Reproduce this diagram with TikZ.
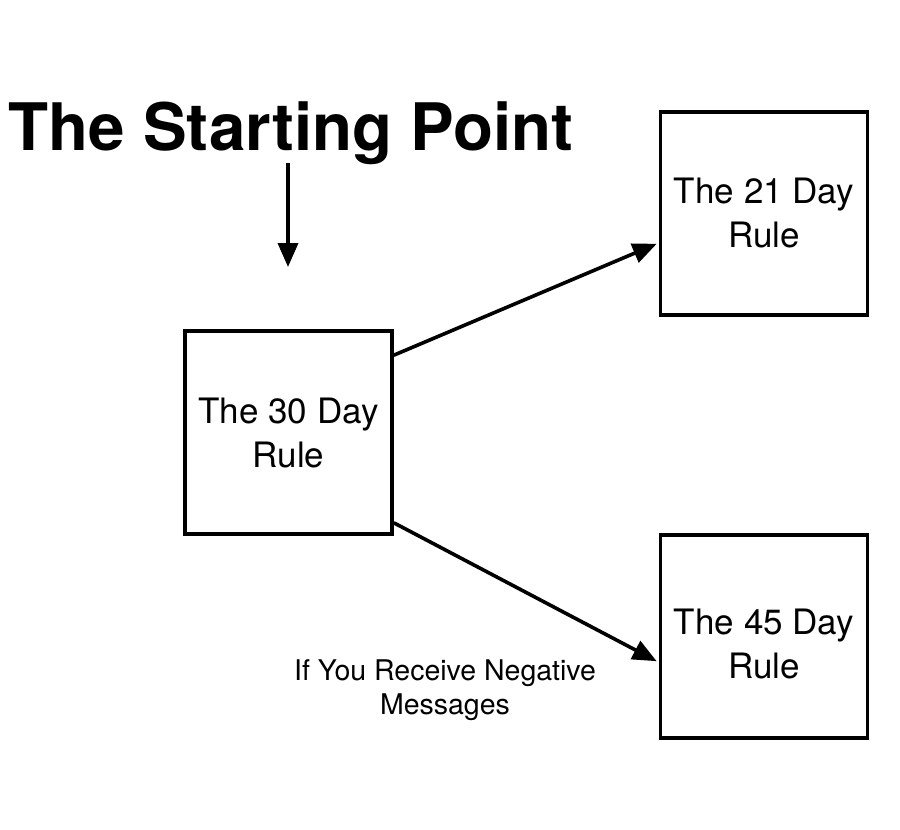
\documentclass[tikz,border=0pt]{standalone}
\usepackage{fontspec}
\setmainfont{TeX Gyre Heros}
\usetikzlibrary{arrows.meta,calc}
\begin{document}
\begin{tikzpicture}[x=1pt,y=-1pt,
  rulebox/.style={draw=black,line width=3.6pt,minimum width=207pt,minimum height=203pt,inner sep=0pt,align=center,font=\fontsize{35}{44}\selectfont},
  boxtext/.style={align=center,inner sep=0pt,font=\fontsize{35}{44}\selectfont},
  conn/.style={line width=3.6pt,-{Triangle[length=24pt,width=20pt]}},
  lbl/.style={align=center,font=\fontsize{28.5}{34}\selectfont}]
\useasboundingbox[fill=white] (0,0) rectangle (900,830);
\node[anchor=base,font=\bfseries\fontsize{65.5}{70}\selectfont,inner sep=0pt] (title) at (291,150) {The Starting Point};
\node[rulebox] (b30) at (288.5,432.5) {The 30 Day\\Rule};
\node[rulebox] (b21) at (764,213.5) {The 21 Day\\Rule};
\node[rulebox] (b45) at (764,636.5) {};
\node[boxtext] (t45) at ($(b45.center)+(0,7)$) {The 45 Day\\Rule};
\node[lbl] (neg) at (445,690) {If You Receive Negative\\Messages};
\coordinate (tstart) at (288,163);
\coordinate (tend) at (288,267);
\draw[conn] (tstart) -- (tend);
\draw[conn] ($(b30.north east)+(0,26)$) -- ($(b21.south west)+(-2,-73)$);
\draw[conn] ($(b30.south east)+(0,-13)$) -- ($(b45.north west)+(-2,128)$);
\end{tikzpicture}
\end{document}
